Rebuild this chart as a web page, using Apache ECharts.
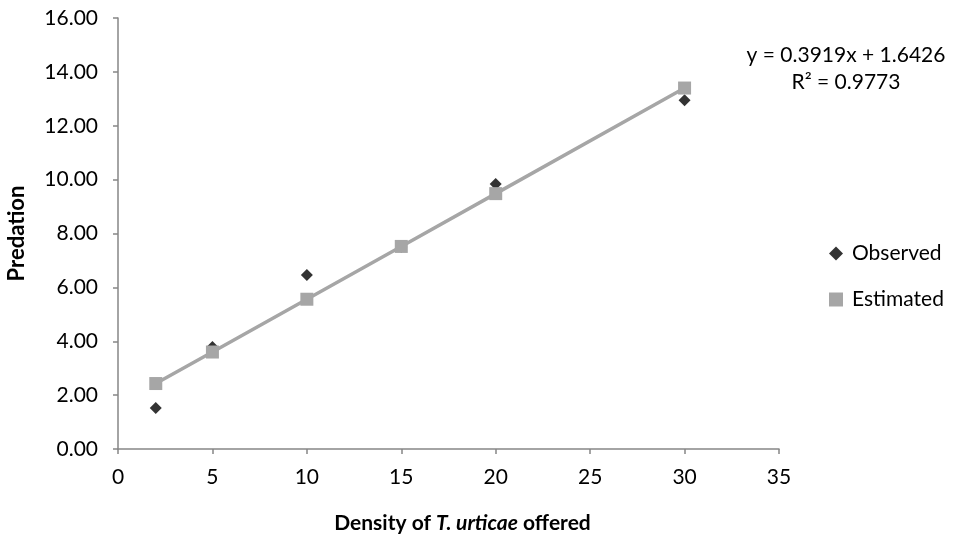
<!DOCTYPE html>
<html>
<head>
<meta charset="utf-8">
<script src="https://cdn.jsdelivr.net/npm/echarts@6/dist/echarts.min.js"></script>
<style>html,body{margin:0;padding:0;background:#fff}#c{width:954px;height:536px}</style>
</head>
<body>
<div id="c"></div>
<script>
var densities = [2, 5, 10, 15, 20, 30];
var observed = [1.52, 3.79, 6.46, 7.50, 9.84, 12.95];
var estimated = [2.43, 3.60, 5.56, 7.52, 9.48, 13.40];
var equationLines = ['y = 0.3919x + 1.6426', 'R² = 0.9773'];

var FONT = 'Lato, "Open Sans", sans-serif';
var chart = echarts.init(document.getElementById('c'));
function pairs(xs, ys){ return xs.map(function(x,i){ return [x, ys[i]]; }); }

chart.setOption({
  animation: false,
  textStyle: { fontFamily: FONT },
  grid: { left: 118, right: 175, top: 18, bottom: 87, containLabel: false, outerBoundsMode: 'none' },
  xAxis: {
    type: 'value', min: 0, max: 35, interval: 5,
    axisLine: { lineStyle: { color: '#868686', width: 1.5 } },
    axisTick: { show: true, length: 5, lineStyle: { color: '#868686', width: 1.5 } },
    splitLine: { show: false },
    axisLabel: { color: '#000', fontSize: 21, margin: 18, fontFamily: FONT },
    name: '{b|Density of }{bi|T. urticae}{b| offered}',
    nameLocation: 'middle', nameGap: 64,
    nameTextStyle: {
      padding: [0, 0, 0, 28],
      rich: {
        b: { fontWeight: 'bold', fontSize: 21, color: '#000', fontFamily: FONT },
        bi: { fontWeight: 'bold', fontStyle: 'italic', fontSize: 21, color: '#000', fontFamily: FONT }
      }
    }
  },
  yAxis: {
    type: 'value', min: 0, max: 16, interval: 2,
    axisLine: { show: true, lineStyle: { color: '#868686', width: 1.5 } },
    axisTick: { show: true, length: 5, lineStyle: { color: '#868686', width: 1.5 } },
    splitLine: { show: false },
    axisLabel: { color: '#000', fontSize: 21, margin: 20, fontFamily: FONT,
      formatter: function(v){ return v.toFixed(2); } },
    name: 'Predation', nameLocation: 'middle', nameGap: 90, nameRotate: 90,
    nameTextStyle: { fontWeight: 'bold', fontSize: 22, color: '#000', fontFamily: FONT }
  },
  legend: {
    orient: 'vertical', left: 824, top: 238, itemGap: 25,
    itemWidth: 14, itemHeight: 14,
    textStyle: { fontSize: 21, color: '#000', fontFamily: FONT, padding: [0, 0, 0, 4] },
    data: [
      { name: 'Observed', icon: 'diamond', itemStyle: { color: '#000' } },
      { name: 'Estimated', icon: 'rect', itemStyle: { color: '#a6a6a6' } }
    ]
  },
  graphic: [{
    type: 'text', x: 846, y: 42,
    style: { text: equationLines.join('\n'), fontSize: 21, lineHeight: 27, fill: '#000',
      align: 'center', fontFamily: FONT }
  }],
  series: [
    { name: 'Observed', type: 'scatter', data: pairs(densities, observed),
      symbol: 'diamond', symbolSize: 12, itemStyle: { color: '#000' }, z: 2 },
    { name: 'Estimated', type: 'line', data: pairs(densities, estimated),
      symbol: 'rect', symbolSize: 13, showAllSymbol: true,
      lineStyle: { color: '#a6a6a6', width: 3.5 },
      itemStyle: { color: '#a6a6a6' }, z: 3 }
  ]
});
</script>
</body>
</html>
